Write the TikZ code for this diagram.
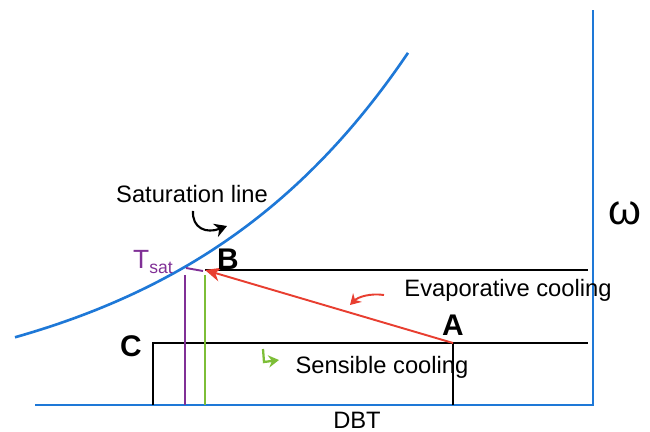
\documentclass[tikz,border=0pt]{standalone}
\usepackage{fontspec}
\setmainfont{Liberation Sans}
\usepackage{tikz}
\usetikzlibrary{arrows.meta, positioning, calc}
\definecolor{chartblue}{RGB}{30, 120, 215}
\definecolor{coolred}{RGB}{232, 62, 48}
\definecolor{satpurple}{RGB}{128, 48, 150}
\definecolor{drygreen}{RGB}{125, 190, 55}

\begin{document}
\begin{tikzpicture}[x=0.02cm, y=-0.02cm,
    every node/.style={font=\fontsize{13.5}{16}\selectfont},
    axisline/.style={chartblue, line width=1.5pt},
    stateline/.style={black, line width=1.1pt},
    hand/.style={font=\fontsize{17}{20}\selectfont\bfseries, inner sep=1pt}]
  \useasboundingbox (0,0) rectangle (650,432);

  % chart frame
  \coordinate (O) at (35,405);
  \coordinate (Xend) at (593,405);
  \coordinate (Ytop) at (593,10);
  \draw[axisline] (O) -- (Xend) -- (Ytop);

  % saturation curve
  \draw[axisline] plot[domain=15:408, samples=60, smooth]
    (\x, {405-137*exp(0.0042*(\x-183))});

  % states
  \coordinate (A) at (453,343);
  \coordinate (B) at (205,270);
  \coordinate (C) at (153,343);
  \coordinate (Tsat) at (186,268);
  \coordinate (TsatLow) at (185,275);
  \coordinate (Bend) at (588,270);
  \coordinate (Cend) at (588,343);

  \draw[stateline] (B) -- (Bend);
  \draw[stateline] (C |- O) -- (C) -- (Cend);
  \draw[stateline] (A) -- (A |- O);
  \draw[satpurple, line width=1.1pt] (Tsat) -- ($(B)+(-2,1)$);
  \draw[satpurple, line width=1.1pt] (TsatLow) -- (TsatLow |- O);
  \draw[drygreen, line width=1.1pt] ($(B)+(0,5)$) -- (B |- O);
  \draw[coolred, line width=1.1pt, -{Stealth[length=9pt, width=8pt]}] (A) -- (B);

  % labels
  \node (satlbl) at (192,194) {Saturation line};
  \node (evaplbl) at (508,290) {Evaporative cooling};
  \node (senslbl) at (382,367) {Sensible cooling};
  \node[inner sep=1pt] (dbtlbl) at (357,420) {DBT};
  \node[hand] (lblA) at (453,325) {A};
  \node[hand] (lblB) at (228,259) {B};
  \node[hand] (lblC) at (131,346) {C};
  \node[satpurple, font=\fontsize{15}{18}\selectfont] (lblT) at (153,262)
    {T\raisebox{-0.4ex}{\fontsize{10}{12}\selectfont sat}};
  \node[font=\fontsize{24}{26}\selectfont] (lblW) at (625,213) {ω};

  % pointer arrows
  \coordinate (satp) at (227,226);
  \draw[line width=1.2pt, -{Stealth[length=7pt, width=8pt]}]
    (193,211) .. controls (192,228) and (206,234) .. (satp);
  \coordinate (evapp) at (350,305);
  \draw[coolred, line width=1.1pt, -{Stealth[length=6pt, width=7pt]}]
    (384,295) .. controls (370,293) and (358,297) .. (evapp);
  \draw[drygreen, line width=1.3pt, -{Stealth[length=6pt, width=7pt]}]
    (263,349) -- (264,362) -- (279,360);
\end{tikzpicture}
\end{document}
